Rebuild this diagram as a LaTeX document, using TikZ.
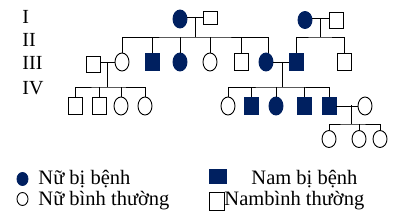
\documentclass[tikz,border=0pt]{standalone}
\usepackage{fontspec}
\setmainfont{Liberation Serif}
\usetikzlibrary{shapes.geometric}
\definecolor{sick}{HTML}{002060}

\begin{document}
\begin{tikzpicture}[x=1pt, y=-1pt, line width=0.9pt,
  fem/.style={draw, ellipse, minimum width=14pt, minimum height=18pt, inner sep=0pt},
  mal/.style={draw, rectangle, minimum width=14pt, minimum height=17pt, inner sep=0pt},
  ill/.style={fill=sick, draw=sick},
  gen/.style={anchor=west, inner sep=0pt, font=\fontsize{20}{20}\selectfont},
  txt/.style={anchor=base west, inner sep=0pt, font=\fontsize{20.5}{22}\selectfont}
]
  \useasboundingbox (0,0) rectangle (399,222);

  % generations
  \node[gen] (genI) at (22,17) {I};
  \node[gen] (genII) at (22,40) {II};
  \node[gen] (genIII) at (22,63) {III};
  \node[gen] (genIV) at (22,88) {IV};

  % first couples
  \node[fem, ill] (gma) at (180,19) {};
  \node[mal, minimum height=13pt] (gpa) at (210,18) {};
  \node[fem, ill, minimum height=17pt] (oma) at (305,20) {};
  \node[mal, minimum height=16pt] (opa) at (336,20) {};

  % their children
  \node[mal, minimum height=16pt] (inlaw) at (93,64) {};
  \node[fem] (kid1) at (122,62) {};
  \node[mal, ill] (kid2) at (152,62) {};
  \node[fem, ill] (kid3) at (180,62) {};
  \node[fem] (kid4) at (210,62) {};
  \node[mal] (kid5) at (241,62) {};
  \node[fem, ill] (kid6) at (266,62) {};
  \node[mal, ill] (son1) at (296,62) {};
  \node[mal] (son2) at (344,62) {};

  % grandchildren, left
  \node[mal] (left1) at (75,106) {};
  \node[mal] (left2) at (99,106) {};
  \node[fem] (left3) at (121,106) {};
  \node[fem] (left4) at (145,106) {};

  % grandchildren, right
  \node[fem] (right1) at (228,106) {};
  \node[mal, ill] (right2) at (251,106) {};
  \node[fem, ill] (right3) at (276,106) {};
  \node[mal, ill] (right4) at (304,106) {};
  \node[mal, ill] (right5) at (329,106) {};
  \node[fem] (wife) at (365,106) {};

  % great-grandchildren
  \node[fem, minimum height=17pt] (last1) at (329,139) {};
  \node[fem, minimum height=17pt] (last2) at (359,139) {};
  \node[fem, minimum height=17pt] (last3) at (380,139) {};

  % couple lines and sibships
  \coordinate (mid1) at (195,17);
  \coordinate (sib1) at (195,37);
  \draw (gma.east |- mid1) -- (gpa.west |- mid1);
  \draw (mid1) -- (sib1);
  \draw (kid1.north) |- (sib1) -| (kid6.north -| 268,0);
  \foreach \k in {kid2,kid3,kid4,kid5}
    \draw (\k.north) -- (\k.north |- sib1);

  \coordinate (mid2) at (320,18);
  \coordinate (sib2) at (320,37);
  \draw (oma.east |- mid2) -- (opa.west |- mid2);
  \draw (mid2) -- (sib2);
  \draw (son1.north) |- (sib2) -| (son2.north);

  \coordinate (mid3) at (107,62);
  \coordinate (sib3) at (107,87);
  \draw (inlaw.east |- mid3) -- (kid1.west);
  \draw (mid3) -- (sib3);
  \draw (left1.north) |- (sib3) -| (left4.north);
  \foreach \k in {left2,left3}
    \draw (\k.north) -- (\k.north |- sib3);

  \coordinate (mid4) at (282,62);
  \coordinate (sib4) at (282,87);
  \draw (kid6.east) -- (son1.west);
  \draw (mid4) -- (sib4);
  \draw (right1.north) |- (sib4) -| (right5.north);
  \foreach \k in {right2,right3,right4}
    \draw (\k.north) -- (\k.north |- sib4);

  \coordinate (mid5) at (351,105);
  \coordinate (sib5) at (351,124);
  \draw (right5.east) -- (wife.west);
  \draw (mid5) -- (sib5);
  \draw (last1.north) |- (sib5) -| (last3.north);
  \draw (last2.north) -- (last2.north |- sib5);

  % legend
  \node[fem, ill, minimum width=11pt, minimum height=13pt] (keyA) at (22.5,179) {};
  \node[txt] (textA) at (38,184) {Nữ bị bệnh};
  \node[fem, minimum width=11pt, minimum height=13pt] (keyB) at (22.5,199) {};
  \node[txt] (textB) at (38,205) {Nữ bình thường};
  \node[mal, ill, minimum width=17pt, minimum height=14pt] (keyC) at (218,176) {};
  \node[txt] (textC) at (251,184) {Nam bị bệnh};
  \node[mal, minimum width=15pt, minimum height=18pt] (keyD) at (216.5,201) {};
  \node[txt] (textD) at (224,205) {Nambình thường};
\end{tikzpicture}
\end{document}
